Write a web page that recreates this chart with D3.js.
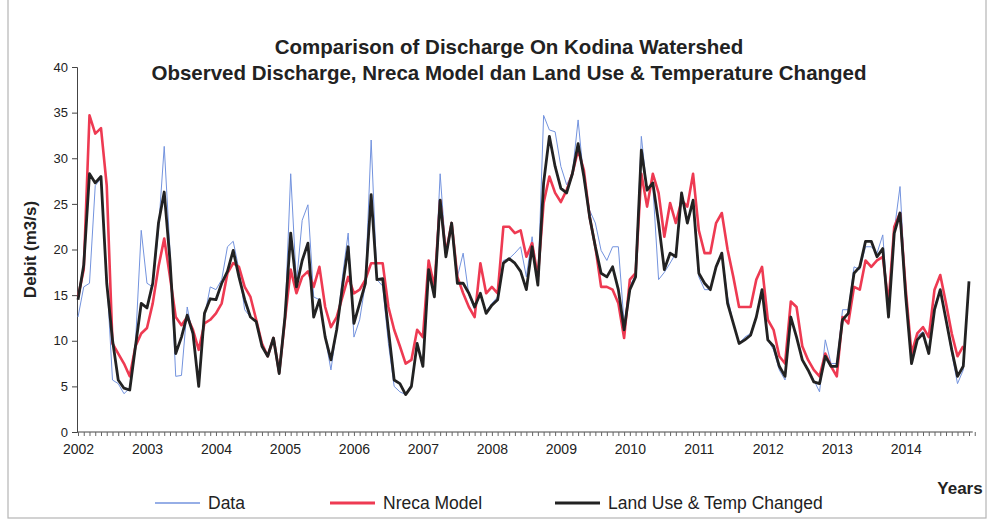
<!DOCTYPE html>
<html>
<head>
<meta charset="utf-8">
<script src="https://cdn.jsdelivr.net/npm/d3@7"></script>
<style>
  body { margin: 0; background: #fff; }
  svg { font-family: "Liberation Sans", Arial, sans-serif; }
</style>
</head>
<body>
<svg id="chart"></svg>
<script>
// monthly discharge, Jan 2002 .. Dec 2014 (m3/s)
const startYear = 2002;
const yearLabels = ["2002","2003","2004","2005","2006","2007","2008","2009","2010","2011","2012","2013","2014"];
const yTicks = [0, 5, 10, 15, 20, 25, 30, 35, 40];

const observed = [
  12.6,15.9,16.3,27.0,27.8,17.0,5.7,5.3,4.2,4.8,9.7,22.1,
  16.3,15.9,22.1,31.3,19.9,6.1,6.2,13.7,10.4,5.3,12.6,15.9,
  15.6,16.7,20.3,20.9,17.8,13.4,12.6,12.1,9.4,8.3,10.3,6.4,
  12.3,28.3,16.3,23.2,24.9,14.8,14.5,10.4,6.8,11.2,17.0,21.8,
  10.4,12.3,16.3,32.0,16.7,16.0,9.7,5.0,4.4,4.1,5.2,9.7,
  7.5,18.0,14.8,28.3,19.6,22.7,17.0,19.6,15.0,13.4,15.2,13.2,
  14.1,14.8,18.8,19.0,19.6,20.3,17.0,21.4,16.1,34.7,33.1,32.9,
  29.1,27.1,28.3,34.2,27.6,24.3,22.9,19.9,18.8,20.3,20.3,11.9,
  16.0,17.2,32.4,26.5,27.0,16.7,17.5,18.5,19.6,25.8,22.9,25.0,
  17.0,15.6,15.6,18.1,19.6,14.8,11.9,9.7,10.4,10.8,12.6,15.6,
  10.1,9.0,6.8,5.7,12.6,10.4,7.9,6.8,5.7,4.4,10.1,7.5,
  7.5,13.4,13.4,18.1,17.8,20.3,20.3,19.6,21.6,13.0,22.1,26.9,
  15.2,8.0,10.5,11.0,8.6,13.8,15.6,12.3,8.6,5.3,6.8,16.5
];

const nreca = [
  14.8,17.8,34.7,32.7,33.3,27.0,9.7,8.6,7.5,6.1,9.4,10.8,
  11.4,14.1,18.1,21.2,17.0,12.6,11.7,12.6,11.2,9.0,11.9,12.3,
  13.0,14.1,17.4,18.5,18.1,15.9,14.8,12.3,9.7,8.3,10.3,6.5,
  12.3,17.8,15.2,17.0,17.6,15.9,18.1,13.7,11.5,12.6,14.8,17.0,
  15.2,15.6,16.7,18.5,18.5,18.5,13.7,11.2,9.4,7.5,7.9,11.2,
  10.4,18.8,15.9,25.4,19.6,22.9,17.0,15.2,13.7,12.6,18.5,15.2,
  15.9,15.2,22.5,22.5,21.8,22.1,19.2,20.7,17.0,25.1,28.0,26.2,
  25.2,26.5,28.3,30.9,28.7,23.6,20.3,15.9,15.9,15.6,14.1,10.3,
  16.7,17.4,28.3,24.7,28.3,26.2,21.4,25.1,22.9,25.4,24.7,28.3,
  22.1,19.6,19.6,22.9,24.0,20.0,17.0,13.7,13.7,13.7,16.7,18.1,
  12.3,11.2,8.3,7.5,14.3,13.7,9.4,7.9,6.8,6.1,8.6,7.2,
  6.1,12.6,11.9,15.9,15.6,18.8,18.1,18.8,19.2,14.1,22.5,24.0,
  15.6,8.6,10.8,11.5,10.4,15.6,17.2,14.1,10.8,8.3,9.4
];

const landUseTemp = [
  14.5,18.3,28.3,27.3,28.0,16.3,10.1,5.7,4.8,4.6,9.4,14.1,
  13.6,16.3,22.9,26.3,18.8,8.6,10.4,12.8,10.8,5.0,13.0,14.6,
  14.5,16.3,17.6,19.9,17.0,14.5,12.6,12.1,9.4,8.3,10.3,6.4,
  12.6,21.8,15.9,18.8,20.7,12.6,14.5,10.4,7.9,11.2,15.9,20.3,
  11.9,14.1,16.3,26.0,16.7,16.8,11.2,5.7,5.3,4.1,5.0,9.7,
  7.2,17.8,14.8,25.4,19.2,22.9,16.3,16.3,15.2,13.7,15.2,13.0,
  13.9,14.5,18.5,19.0,18.5,17.6,15.6,20.3,16.1,27.3,32.4,29.1,
  26.7,26.2,28.3,31.6,28.0,23.6,20.3,17.4,17.0,18.1,15.6,11.2,
  15.6,17.0,30.9,26.5,27.3,22.9,17.8,19.6,19.2,26.2,22.9,25.4,
  17.4,16.3,15.6,18.1,19.6,14.1,11.9,9.7,10.1,10.6,12.6,15.6,
  10.1,9.4,7.2,6.1,12.6,10.4,7.9,6.8,5.5,5.3,8.3,7.2,
  7.2,12.3,13.0,17.4,18.1,20.9,20.9,19.2,20.1,12.6,21.8,24.0,
  14.8,7.5,10.1,10.8,8.6,13.4,15.6,12.3,9.0,6.1,7.2,16.5
];

const seriesNames = ["Data", "Nreca Model", "Land Use & Temp Changed"];
const seriesColors = ["#7393de", "#ee3a52", "#222222"];
const seriesWidths = [1, 2.6, 2.8];

const svgWidth = 990,
    svgHeight = 521,
    margin = {top: 67, right: 21, bottom: 89, left: 78},
    width = svgWidth - margin.left - margin.right,
    height = svgHeight - margin.top - margin.bottom;

const chart = d3.select("#chart")
    .attr("width", svgWidth)
    .attr("height", svgHeight);

// faint frame of the scanned figure
chart.append("rect")
    .attr("x", 8).attr("y", -2)
    .attr("width", 978).attr("height", 520)
    .attr("fill", "none")
    .attr("stroke", "#b5b5b5")
    .attr("stroke-width", 1.2);

const innerChart = chart.append("g")
    .attr("transform", "translate(" + margin.left + "," + margin.top + ")");

const nMonths = observed.length;

var xScale = d3.scaleLinear().domain([0, nMonths - 1]).range([0, width]);
var yScale = d3.scaleLinear().domain([0, 40]).range([height, 0]);

// y axis
var yAxis = d3.axisLeft(yScale).tickValues(yTicks).tickSize(5).tickPadding(4);
var yg = innerChart.append("g")
    .attr("transform", "translate(-1,0)")
    .call(yAxis);
yg.select(".domain").attr("stroke", "#444");
yg.selectAll(".tick line").attr("stroke", "#444");
yg.selectAll(".tick text").style("font-size", "13px").attr("fill", "#222");

// x axis: a small tick every month, label every january
var monthIdx = d3.range(nMonths + 1);
var xAxis = d3.axisBottom(xScale)
    .tickValues(monthIdx)
    .tickSize(4)
    .tickFormat(function(d) {
        return d % 12 == 0 && d / 12 < yearLabels.length ? yearLabels[d / 12] : "";
    });
var xg = innerChart.append("g")
    .attr("transform", "translate(0," + height + ")")
    .call(xAxis);
xg.select(".domain").attr("stroke", "#444").attr("d", "M-1,0H" + (xScale(nMonths) - 2));
xg.selectAll(".tick line").attr("stroke", "#666");
xg.selectAll(".tick text").style("font-size", "14px").attr("fill", "#222").attr("dy", "1.05em");

// lines
var valueline = d3.line()
    .x(function(d, i) { return xScale(i); })
    .y(function(d) { return yScale(d); })
    .curve(d3.curveLinear);

[observed, nreca, landUseTemp].forEach(function(series, k) {
    innerChart.append("path")
        .datum(series)
        .attr("fill", "none")
        .attr("stroke", seriesColors[k])
        .attr("stroke-width", seriesWidths[k])
        .attr("stroke-linejoin", "round")
        .attr("d", valueline);
});

// titles
chart.append("text")
    .attr("x", 509).attr("y", 54)
    .attr("text-anchor", "middle")
    .style("font-size", "20.5px").style("font-weight", "bold").attr("fill", "#222")
    .text("Comparison of Discharge On Kodina Watershed");
chart.append("text")
    .attr("x", 509).attr("y", 80)
    .attr("text-anchor", "middle")
    .style("font-size", "20.5px").style("font-weight", "bold").attr("fill", "#222")
    .text("Observed Discharge, Nreca Model dan Land Use & Temperature Changed");

chart.append("text")
    .attr("transform", "translate(36," + (margin.top + height / 2) + ") rotate(-90)")
    .attr("text-anchor", "middle")
    .style("font-size", "17px").style("font-weight", "bold").attr("fill", "#222")
    .text("Debit (m3/s)");

chart.append("text")
    .attr("x", 960).attr("y", 494)
    .attr("text-anchor", "middle")
    .style("font-size", "17px").style("font-weight", "bold").attr("fill", "#222")
    .text("Years");

// legend
const legendX = [155, 330, 555];
var legend = chart.append("g").attr("transform", "translate(0,503)");
seriesNames.forEach(function(name, k) {
    legend.append("line")
        .attr("x1", legendX[k]).attr("x2", legendX[k] + 45)
        .attr("y1", 0).attr("y2", 0)
        .attr("stroke", seriesColors[k])
        .attr("stroke-width", seriesWidths[k] + 0.4);
    legend.append("text")
        .attr("x", legendX[k] + 53).attr("y", 6)
        .style("font-size", "17.5px").attr("fill", "#222")
        .text(name);
});
</script>
</body>
</html>
